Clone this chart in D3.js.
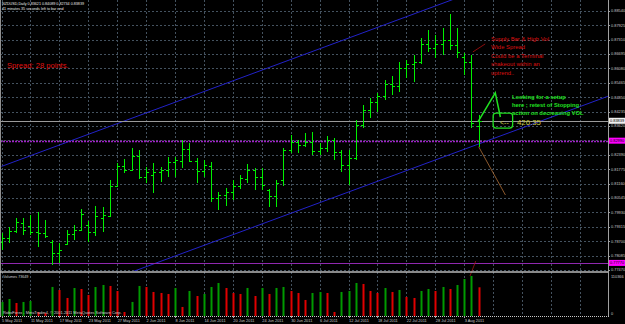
<!DOCTYPE html>
<html><head><meta charset="utf-8">
<script src="https://cdn.jsdelivr.net/npm/d3@7"></script>
<style>html,body{margin:0;padding:0;background:#000;}svg{display:block;}</style>
</head><body>
<svg id="chart" width="625" height="324"></svg>
<script>
// ---------- DATA ----------
const dates = ["5 May 2011","6 May 2011","9 May 2011","10 May 2011","11 May 2011","12 May 2011","13 May 2011","16 May 2011","17 May 2011","18 May 2011","19 May 2011","20 May 2011","23 May 2011","24 May 2011","25 May 2011","26 May 2011","27 May 2011","30 May 2011","31 May 2011",
"1 Jun 2011","2 Jun 2011","3 Jun 2011","6 Jun 2011","7 Jun 2011","8 Jun 2011","9 Jun 2011","10 Jun 2011","13 Jun 2011","14 Jun 2011","15 Jun 2011","16 Jun 2011","17 Jun 2011","20 Jun 2011","21 Jun 2011","22 Jun 2011","23 Jun 2011","24 Jun 2011","27 Jun 2011","28 Jun 2011","29 Jun 2011","30 Jun 2011",
"1 Jul 2011","4 Jul 2011","5 Jul 2011","6 Jul 2011","7 Jul 2011","8 Jul 2011","11 Jul 2011","12 Jul 2011","13 Jul 2011","14 Jul 2011","15 Jul 2011","18 Jul 2011","19 Jul 2011","20 Jul 2011","21 Jul 2011","22 Jul 2011","25 Jul 2011","26 Jul 2011","27 Jul 2011","28 Jul 2011","29 Jul 2011",
"1 Aug 2011","2 Aug 2011","3 Aug 2011","4 Aug 2011","5 Aug 2011"];

const open  = [.7866,.7883,.7913,.7947,.7935,.7909,.7905,.7866,.7819,.7858,.7901,.7918,.7939,.7909,.7969,.7977,.8105,.8191,.8174,.8234,.8144,.8152,.8165,.8174,.8208,.8212,.8263,.8212,.8170,.8191,.8054,.8067,.8080,.8105,.8135,.8174,.8144,.8088,.8063,.8131,.8259,.8293,.8281,.8293,.8255,.8268,.8302,.8251,.8195,.8225,.8366,.8430,.8464,.8490,.8541,.8532,.8609,.8626,.8635,.8712,.8695,.8712,.8729,.8708,.8656,.8635,.83621];
const high  = [.7905,.7930,.7969,.7969,.7982,.7994,.7960,.7875,.7862,.7918,.7939,.8007,.7956,.8020,.8016,.8131,.8204,.8221,.8268,.8259,.8187,.8204,.8187,.8229,.8229,.8302,.8289,.8225,.8217,.8208,.8080,.8097,.8131,.8152,.8199,.8182,.8182,.8093,.8131,.8268,.8323,.8302,.8332,.8336,.8289,.8319,.8310,.8259,.8259,.8387,.8451,.8481,.8503,.8558,.8575,.8635,.8644,.8665,.8737,.8772,.8750,.8780,.8840,.8780,.8673,.8665,.84089];
const low   = [.7832,.7862,.7905,.7896,.7896,.7845,.7883,.7768,.7777,.7854,.7875,.7913,.7866,.7892,.7909,.7973,.8101,.8161,.8170,.8135,.8118,.8076,.8123,.8144,.8144,.8182,.8208,.8118,.8144,.8037,.8003,.8020,.8046,.8093,.8118,.8088,.8088,.8016,.8016,.8105,.8246,.8246,.8272,.8238,.8238,.8251,.8217,.8165,.8110,.8217,.8353,.8396,.8421,.8473,.8494,.8507,.8567,.8550,.8626,.8678,.8652,.8665,.8686,.8652,.8579,.8353,.82734];
const close = [.7883,.7913,.7952,.7918,.7909,.7905,.7892,.7819,.7832,.7901,.7918,.7986,.7909,.7977,.7982,.8105,.8191,.8174,.8234,.8144,.8165,.8165,.8174,.8208,.8217,.8263,.8212,.8170,.8195,.8054,.8067,.8080,.8105,.8140,.8174,.8144,.8110,.8063,.8118,.8259,.8293,.8281,.8293,.8255,.8268,.8302,.8251,.8195,.8225,.8366,.8430,.8464,.8490,.8541,.8532,.8609,.8626,.8635,.8712,.8695,.8712,.8729,.8708,.8678,.8635,.8374,.83839];
const volume = [35940,43610,33380,35990,38470,10310,7680,74520,66710,46250,71830,69280,53960,74400,79620,77050,64120,10240,36010,77080,74390,61650,59080,56420,71910,23150,64210,51300,56500,74480,84660,71850,59000,56510,71920,51290,71840,56430,71900,74470,64140,59010,41100,59060,61580,59020,10300,61640,64210,84690,82170,64150,59070,71860,61570,66780,48740,46230,64200,69270,64160,74460,69340,79550,94940,102710,73649];

const dateTicks = ["5 May 2011","11 May 2011","17 May 2011","23 May 2011","27 May 2011","2 Jun 2011","8 Jun 2011","14 Jun 2011","20 Jun 2011","24 Jun 2011","30 Jun 2011","6 Jul 2011","12 Jul 2011","18 Jul 2011","22 Jul 2011","28 Jul 2011","3 Aug 2011"];
const priceTicks = [0.88540,0.87925,0.87310,0.86695,0.86080,0.85465,0.84850,0.84235,0.83620,0.83005,0.82390,0.81775,0.81160,0.80545,0.79930,0.79315,0.78700,0.78085,0.77470];
const volumeMax = 110366;
const bidPrice = 0.83839;
const magentaLevels = [0.82990, 0.77770];

const channelUpper = [{i:0,p:0.8189},{i:63.5,p:0.8914}];
const channelLower = [{i:18,p:0.7738},{i:84,p:0.8490}];
const greenArrow = [{i:65.9,p:0.8379},{i:68.3,p:0.8503},{i:69.0,p:0.8400}];
const redPointer = [{i:65.2,p:0.8678},{i:66.9,p:0.8712}];
const orangeLine = [{i:66,p:0.8273},{i:69.7,p:0.8067}];
const redShort = [{i:64.8,p:0.7721},{i:65.6,p:0.7785}];
const timerBox = {i0:68.0,i1:70.7,p0:0.8417,p1:0.8353};

// ---------- SCALES ----------
const svg = d3.select("#chart");
const W = 625, H = 324, plotR = 608, priceB = 271, volT = 273, volB = 316;
const X = d3.scaleLinear().domain([0,84]).range([1.5,608.8]);
const Y = d3.scaleLinear().domain([0.77425,0.88997]).range([priceB,0]);
const V = d3.scaleLinear().domain([0,volumeMax]).range([volB,volT]);
const px = v => Math.round(v)+0.5;

svg.append("rect").attr("width",W).attr("height",H).attr("fill","#000");
const defs = svg.append("defs");
defs.append("clipPath").attr("id","pc").append("rect").attr("x",0).attr("y",0).attr("width",plotR).attr("height",priceB);

const gridColor = "#44525f";
const gridIdx = d3.range(0, 84, 4);
svg.append("g").selectAll("line").data(gridIdx).join("line")
  .attr("x1",i=>px(X(i))).attr("x2",i=>px(X(i))).attr("y1",0).attr("y2",volB)
  .attr("stroke",gridColor).attr("stroke-width",1).attr("stroke-dasharray","2,2");
svg.append("g").selectAll("line").data(priceTicks).join("line")
  .attr("x1",0).attr("x2",plotR).attr("y1",d=>px(Y(d))).attr("y2",d=>px(Y(d)))
  .attr("stroke",gridColor).attr("stroke-width",1).attr("stroke-dasharray","2,2");

const pane = svg.append("g").attr("clip-path","url(#pc)");
const line = d3.line().x(d=>X(d.i)).y(d=>Y(d.p));

pane.append("path").attr("d",line(channelUpper)).attr("stroke","#2222c8").attr("fill","none").attr("stroke-width",1);
pane.append("path").attr("d",line(channelLower)).attr("stroke","#2222c8").attr("fill","none").attr("stroke-width",1);

pane.append("line").attr("x1",0).attr("x2",plotR).attr("y1",px(Y(bidPrice))).attr("y2",px(Y(bidPrice)))
  .attr("stroke","#9a9a9a").attr("stroke-width",1);
pane.append("line").attr("x1",0).attr("x2",plotR).attr("y1",px(Y(magentaLevels[0]))).attr("y2",px(Y(magentaLevels[0])))
  .attr("stroke","#a020c8").attr("stroke-width",1.5).attr("stroke-dasharray","2,1");
pane.append("line").attr("x1",0).attr("x2",plotR).attr("y1",px(Y(magentaLevels[1]))).attr("y2",px(Y(magentaLevels[1])))
  .attr("stroke","#9028b0").attr("stroke-width",1);

const idx = d3.range(dates.length);
const barCol = "#00f000";
const bars = pane.append("g").attr("stroke",barCol).attr("stroke-width",1).attr("shape-rendering","crispEdges");
bars.selectAll(".hl").data(idx).join("line")
  .attr("x1",i=>px(X(i))).attr("x2",i=>px(X(i))).attr("y1",i=>Y(high[i])).attr("y2",i=>Y(low[i]));
bars.selectAll(".o").data(idx).join("line")
  .attr("x1",i=>Math.round(X(i))-2).attr("x2",i=>Math.round(X(i))+0.5).attr("y1",i=>px(Y(open[i]))).attr("y2",i=>px(Y(open[i])));
bars.selectAll(".c").data(idx).join("line")
  .attr("x1",i=>Math.round(X(i))+0.5).attr("x2",i=>Math.round(X(i))+3).attr("y1",i=>px(Y(close[i]))).attr("y2",i=>px(Y(close[i])));

pane.append("path").attr("d",line(orangeLine)).attr("stroke","#b07038").attr("fill","none").attr("stroke-width",0.8);
pane.append("path").attr("d",line(redPointer)).attr("stroke","#b01010").attr("fill","none").attr("stroke-width",0.8);
pane.append("path").attr("d",line(greenArrow)).attr("stroke","#20e020").attr("fill","none").attr("stroke-width",1.5);
pane.append("rect").attr("x",X(timerBox.i0)).attr("y",Y(timerBox.p0))
  .attr("width",X(timerBox.i1)-X(timerBox.i0)).attr("height",Y(timerBox.p1)-Y(timerBox.p0))
  .attr("rx",3).attr("fill","none").attr("stroke","#20e020").attr("stroke-width",1.3);
svg.append("path").attr("d",line(redShort)).attr("stroke","#a01818").attr("fill","none").attr("stroke-width",0.8);

svg.append("g").selectAll("rect").data(idx).join("rect")
  .attr("x",i=>Math.round(X(i))-0.5).attr("width",2)
  .attr("y",i=>V(volume[i])).attr("height",i=>volB-V(volume[i]))
  .attr("fill",i=> (i>0 && volume[i] < volume[i-1]) ? "#e00000" : "#009a00");

svg.append("line").attr("x1",0.5).attr("x2",0.5).attr("y1",0).attr("y2",volB).attr("stroke","#909090");
svg.append("line").attr("x1",px(plotR)).attr("x2",px(plotR)).attr("y1",0).attr("y2",volB+1).attr("stroke","#a0a0a0");
svg.append("line").attr("x1",0).attr("x2",plotR).attr("y1",272).attr("y2",272).attr("stroke","#b8b8b8").attr("stroke-width",1.6);
svg.append("line").attr("x1",0).attr("x2",plotR+1).attr("y1",volB+0.5).attr("y2",volB+0.5).attr("stroke","#c8c8c8").attr("stroke-dasharray","1,1");

const font = "Arial, 'Liberation Sans', sans-serif";
const fmt = d3.format(".5f");
const rax = svg.append("g").attr("font-family",font).attr("font-size",3.9).attr("fill","#c8c8c8");
priceTicks.forEach(p=>{
  const y = Y(p);
  rax.append("line").attr("x1",plotR).attr("x2",plotR+2).attr("y1",px(y)).attr("y2",px(y)).attr("stroke","#a0a0a0");
  rax.append("text").attr("x",611).attr("y",y+1.4).text(fmt(p));
});
function priceBox(p, bg, fg){
  const y = Y(p);
  svg.append("rect").attr("x",609).attr("y",y-3).attr("width",16).attr("height",6).attr("fill",bg);
  svg.append("text").attr("x",610).attr("y",y+1.5).attr("font-family",font).attr("font-size",3.9).attr("fill",fg).text(fmt(p));
}
priceBox(bidPrice,"#f0f0f0","#000");
priceBox(magentaLevels[0],"#ff00ff","#000");
priceBox(magentaLevels[1],"#ff00ff","#000");
svg.append("text").attr("x",611).attr("y",277.5).attr("font-family",font).attr("font-size",3.9).attr("fill","#c8c8c8").text(volumeMax);
svg.append("text").attr("x",611).attr("y",314.5).attr("font-family",font).attr("font-size",3.9).attr("fill","#c8c8c8").text("0");

const dax = svg.append("g").attr("font-family",font).attr("font-size",3.9).attr("fill","#c8c8c8");
dateTicks.forEach(d=>{
  const i = dates.indexOf(d);
  dax.append("line").attr("x1",px(X(i))).attr("x2",px(X(i))).attr("y1",volB).attr("y2",volB+2).attr("stroke","#a0a0a0");
  dax.append("text").attr("x",X(i)+0.5).attr("y",321.5).text(d);
});

const T = (x,y,s,size,col,w)=>svg.append("text").attr("x",x).attr("y",y).attr("font-family",font)
  .attr("font-size",size).attr("fill",col).attr("font-weight",w||"normal").text(s);
T(2,5,"NZDUSD,Daily  0.83621 0.84089 0.82734 0.83839",3.7,"#e8e8e8");
T(2,10,"41 minutes 35 seconds left to bar end",3.7,"#e8e8e8");
T(3,277.5,"Volumes 73649",3.7,"#d0d0d0");
T(3,313.5,"RoboForex - MetaTrader4, \u00a9 2001-2011 MetaQuotes Software Corp.",3.9,"#d0d0d0");
T(7,68,"Spread: 28 points.",7.6,"#e01010");
["Supply Bar & High Vol","Wide Spread","Could be a Terminal","shakeout within an","uptrend.."]
  .forEach((s,k)=>T(491,40.5+k*8.6,s,5.9,"#dd1010"));
["Looking for a setup","here ; retest of Stopping","action on decreasing VOL"]
  .forEach((s,k)=>T(512,99+k*8.2,s,5.8,"#20e020","bold"));
T(500,124.5,"<--",7,"#c8c840");
T(517,124.5,"426:35",7.8,"#c8c840");
</script>
</body></html>
